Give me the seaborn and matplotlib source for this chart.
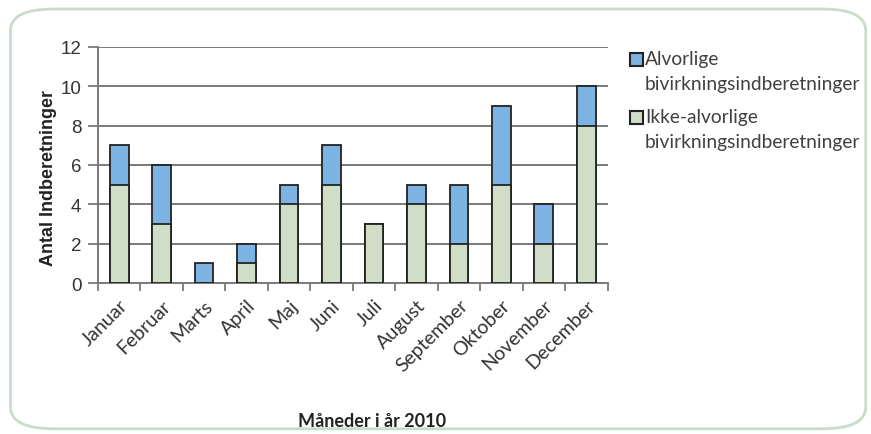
import matplotlib
matplotlib.use("Agg")
import matplotlib.pyplot as plt
import seaborn as sns
import pandas as pd
from matplotlib.patches import FancyBboxPatch, Rectangle

months = ["Januar", "Februar", "Marts", "April", "Maj", "Juni", "Juli",
          "August", "September", "Oktober", "November", "December"]
ikke_alvorlige = [5, 3, 0, 1, 4, 5, 3, 4, 2, 5, 2, 8]
alvorlige = [2, 3, 1, 1, 1, 2, 0, 1, 3, 4, 2, 2]
yticks = [0, 2, 4, 6, 8, 10, 12]
legend_lines = [("Alvorlige", "bivirkningsindberetninger"),
                ("Ikke-alvorlige", "bivirkningsindberetninger")]

blue = "#7db3e3"
green = "#d0dec8"
edge = "#222222"
gray = "#7a7a7a"

df = pd.DataFrame({"month": months, "ikke": ikke_alvorlige, "alv": alvorlige})
df["total"] = df["ikke"] + df["alv"]

sns.set_style("white")
fig = plt.figure(figsize=(8.71, 4.35), dpi=100)
ax = fig.add_axes([0.1125, 0.347, 0.585, 0.543])

sns.barplot(data=df, x="month", y="total", color=blue, edgecolor=edge,
            linewidth=1.3, width=0.44, saturation=1, ax=ax, zorder=3)
sns.barplot(data=df, x="month", y="ikke", color=green, edgecolor=edge,
            linewidth=1.3, width=0.44, saturation=1, ax=ax, zorder=4)

ax.set_ylim(0, 12)
ax.set_yticks(yticks)
ax.set_xlim(-0.5, len(months) - 0.5)
ax.yaxis.grid(True, color=gray, linewidth=1.4, zorder=0)
ax.set_axisbelow(True)
for s in ["top", "right"]:
    ax.spines[s].set_visible(False)
for s in ["left", "bottom"]:
    ax.spines[s].set_color(gray)
    ax.spines[s].set_linewidth(1.4)

ax.set_yticklabels([str(v) for v in yticks], fontsize=13.5,
                   family="Liberation Sans", color="#333333")
ax.tick_params(axis="y", left=True, length=7, width=1.3, color=gray, pad=5)
ax.set_xticks(list(range(len(months))))
ax.set_xticklabels(months, rotation=45, ha="right", rotation_mode="anchor",
                   fontsize=14, family="Lato", color="#333333")
ax.set_xticks([i + 0.5 for i in range(-1, len(months))], minor=True)
ax.tick_params(axis="x", which="major", bottom=False, pad=6)
ax.tick_params(axis="x", which="minor", bottom=True, length=6, width=1.3,
               color=gray)

ax.set_xlabel("Måneder i år 2010", fontsize=13, fontweight="bold",
              family="Lato", color="#222222")
ax.xaxis.set_label_coords(0.538, -0.545)
ax.set_ylabel("Antal Indberetninger", fontsize=13, fontweight="bold",
              family="Liberation Sans", color="#222222")
ax.yaxis.set_label_coords(-0.081, 0.45)

# legend (drawn in figure coordinates)
W, H = 871.0, 435.0
colors = [blue, green]
first_y = [60, 118]
for (l1, l2), c, y in zip(legend_lines, colors, first_y):
    fig.patches.append(Rectangle((630 / W, 1 - (y + 6.5) / H), 13 / W, 13 / H,
                                 transform=fig.transFigure, facecolor=c,
                                 edgecolor=edge, linewidth=1.5))
    fig.text(645 / W, 1 - y / H, l1, va="center", ha="left", family="Lato",
             fontsize=13.8, color="#404040")
    fig.text(645 / W, 1 - (y + 24.5) / H, l2, va="center", ha="left",
             family="Lato", fontsize=13.8, color="#404040")

border = FancyBboxPatch((0.012, 0.012), 0.982, 0.965,
                        boxstyle="round,pad=0,rounding_size=0.05",
                        transform=fig.transFigure, facecolor="none",
                        edgecolor="#c9dcc9", linewidth=2, clip_on=False)
fig.patches.append(border)

fig.savefig("out.png", dpi=100)
